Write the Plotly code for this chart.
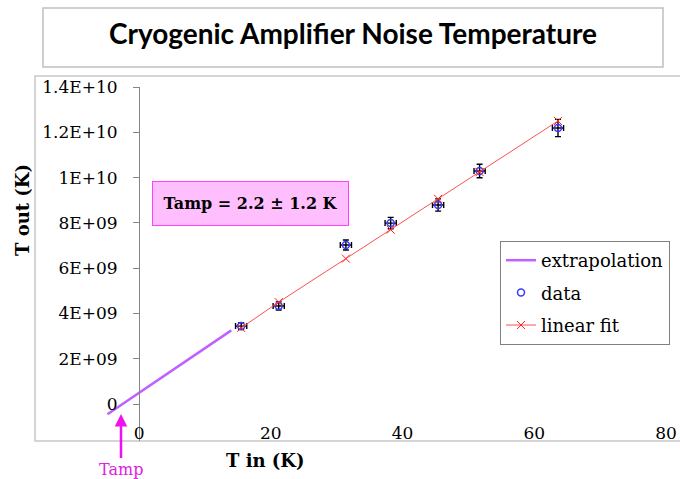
import plotly.graph_objects as go

# ---- data ----
t_in = [15.5, 21.2, 31.4, 38.2, 45.4, 51.7, 63.6]
t_out = [3.44e9, 4.33e9, 7.02e9, 7.99e9, 8.79e9, 10.29e9, 12.19e9]
t_in_err = [0.85, 0.85, 0.85, 0.85, 0.85, 0.85, 0.85]
t_out_err = [0.15e9, 0.18e9, 0.22e9, 0.25e9, 0.27e9, 0.3e9, 0.38e9]

fit_x = [15.5, 21.2, 31.4, 38.2, 45.4, 51.7, 63.6]
fit_y = [3.36e9, 4.5e9, 6.42e9, 7.7e9, 9.06e9, 10.24e9, 12.5e9]

extrap_x = [-4.8, 14.0]
extrap_y = [-0.45e9, 3.25e9]

y_tickvals = [0, 2e9, 4e9, 6e9, 8e9, 1e10, 1.2e10, 1.4e10]
y_ticktext = ["0", "2E+09", "4E+09", "6E+09", "8E+09", "1E+10", "1.2E+10", "1.4E+10"]
x_tickvals = [0, 20, 40, 60, 80]
x_ticktext = ["0", "20", "40", "60", "80"]

x_range = [-15.8, 80]
y_range = [-1.634e9, 1.4e10]

# ---- layout geometry (pixels) ----
W, H = 680, 479
L, R, T, B = 35, 666, 87, 441


def px(xp):
    return (xp - L) / (R - L)


def py(yp):
    return (B - yp) / (B - T)


SERIF = "DejaVu Serif"

fig = go.Figure()

fig.add_trace(go.Scatter(
    x=extrap_x, y=extrap_y, mode="lines", name="extrapolation",
    line=dict(color="#c060ff", width=2.5), legendgroup="a",
))
fig.add_trace(go.Scatter(
    x=t_in, y=t_out, mode="markers", name="data", legendgroup="b",
    marker=dict(symbol="circle-open", color="#3a3aff", size=7, line=dict(width=1.5)),
    error_x=dict(type="data", array=t_in_err, color="black", thickness=1.4, width=3),
    error_y=dict(type="data", array=t_out_err, color="black", thickness=1.4, width=3),
))
fig.add_trace(go.Scatter(
    x=fit_x, y=fit_y, mode="lines+markers", name="linear fit", legendgroup="c",
    line=dict(color="#ff5050", width=1),
    marker=dict(symbol="x-thin-open", color="#ff2020", size=8, line=dict(width=1, color="#ff2020")),
))

xpos0 = (0 - y_range[0]) / (y_range[1] - y_range[0])
ypos0 = (0 - x_range[0]) / (x_range[1] - x_range[0])

fig.update_layout(
    width=W, height=H,
    margin=dict(l=L, r=W - R, t=T, b=H - B, autoexpand=False),
    paper_bgcolor="white", plot_bgcolor="white",
    showlegend=True,
    font=dict(family=SERIF, size=17, color="black"),
    title=dict(
        text="<b>Cryogenic Amplifier Noise Temperature</b>",
        font=dict(family="Lato", size=28, color="black"),
        x=353 / W, xanchor="center", y=1 - 34 / H, yanchor="middle",
    ),
    xaxis=dict(
        range=x_range, showgrid=False, zeroline=False, showline=False,
        tickmode="array", tickvals=x_tickvals, ticktext=x_ticktext,
        ticks="", anchor="free", position=py(421), automargin=False,
        tickfont=dict(family=SERIF, size=17),
    ),
    xaxis2=dict(
        range=x_range, overlaying="x", matches="x", anchor="free", position=xpos0,
        showgrid=False, zeroline=False, showline=True, linecolor="#868686", linewidth=1.3,
        ticks="outside", ticklen=6, tickcolor="#868686", tickwidth=1.3, automargin=False,
        tickmode="array", tickvals=x_tickvals, showticklabels=False, side="bottom",
    ),
    yaxis=dict(
        range=y_range, showgrid=False, zeroline=False, showline=True,
        linecolor="#868686", linewidth=1.3, anchor="free", position=ypos0,
        ticks="outside", ticklen=6, tickcolor="#868686", tickwidth=1.3,
        tickmode="array", tickvals=y_tickvals, ticktext=y_ticktext, automargin=False,
        ticklabelstandoff=12, tickfont=dict(family=SERIF, size=17),
    ),
    legend=dict(
        x=px(500), y=py(241), xanchor="left", yanchor="top",
        bgcolor="white", bordercolor="#808080", borderwidth=1,
        font=dict(family=SERIF, size=18), tracegroupgap=6,
        itemwidth=30,
    ),
    shapes=[
        dict(type="rect", xref="paper", yref="paper",
             x0=px(43), x1=px(663), y0=py(67), y1=py(8),
             line=dict(color="#c0c0c0", width=1.5), fillcolor="rgba(0,0,0,0)", layer="below"),
        dict(type="rect", xref="paper", yref="paper",
             x0=0, x1=px(684), y0=0, y1=py(76),
             line=dict(color="#c8c8c8", width=1.5), fillcolor="rgba(0,0,0,0)", layer="below"),
    ],
    annotations=[
        dict(text="<b>Tamp = 2.2 ± 1.2 K</b>", xref="paper", yref="paper",
             x=px(250.5), y=py(203.5), xanchor="center", yanchor="middle", showarrow=False,
             font=dict(family=SERIF, size=16, color="black"),
             bgcolor="#ffbfff", bordercolor="#ff40ff", borderwidth=1,
             width=191, height=39, borderpad=2),
        dict(text="Tamp", xref="paper", yref="paper",
             x=px(121), y=py(414), ax=0, ay=55, showarrow=True,
             xanchor="center", yanchor="middle",
             arrowhead=2, arrowsize=1, arrowwidth=2.5, arrowcolor="#f010f0",
             font=dict(family=SERIF, size=16, color="#e020e0")),
        dict(text="<b>T out (K)</b>", xref="paper", yref="paper",
             x=px(22), y=py(210), xanchor="center", yanchor="middle",
             showarrow=False, textangle=-90,
             font=dict(family=SERIF, size=18, color="black")),
        dict(text="<b>T in (K)</b>", xref="paper", yref="paper",
             x=px(265), y=py(460), xanchor="center", yanchor="middle", showarrow=False,
             font=dict(family=SERIF, size=18, color="black")),
    ],
)

fig.write_html("out.html", config={"displayModeBar": False},
               post_script="document.body.style.margin='0';")
